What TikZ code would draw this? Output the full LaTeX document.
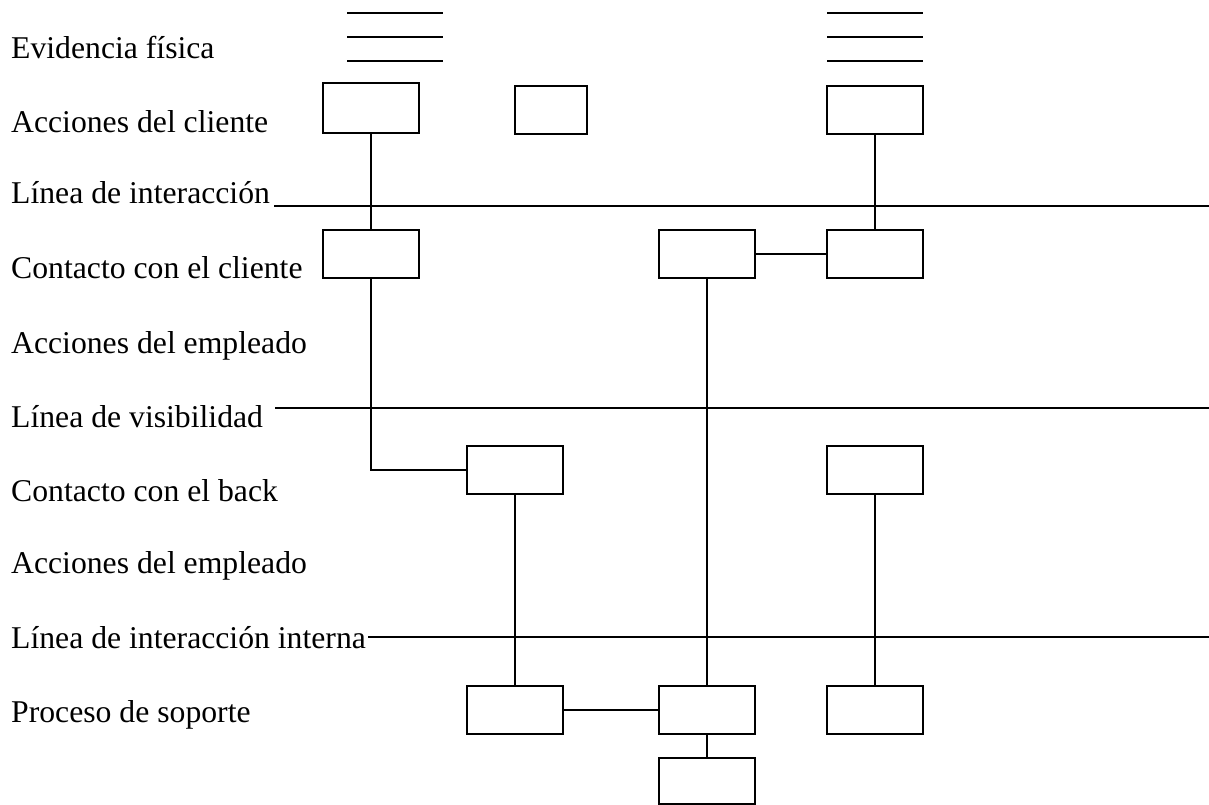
\documentclass[tikz,border=0pt]{standalone}
\usepackage{fontspec}
\setmainfont{Liberation Serif}
\begin{document}
\begin{tikzpicture}[x=1pt,y=-1pt,
  lbl/.style={anchor=base west,inner sep=0pt,font=\fontsize{31.7}{36}\selectfont},
  box/.style={draw,line width=1.5pt,inner sep=0pt,minimum width=96pt,minimum height=48pt},
  conn/.style={line width=1.5pt},
  sep/.style={line width=1.5pt}]
\useasboundingbox (0,0) rectangle (1209,805);
% labels
\node[lbl] (l1) at (11,59) {Evidencia física};
\node[lbl] (l2) at (11,133) {Acciones del cliente};
\node[lbl] (l3) at (11,204) {Línea de interacción};
\node[lbl] (l4) at (11,278) {Contacto con el cliente};
\node[lbl] (l5) at (11,353) {Acciones del empleado};
\node[lbl] (l6) at (11,427) {Línea de visibilidad};
\node[lbl] (l7) at (11,501) {Contacto con el back};
\node[lbl] (l8) at (11,573) {Acciones del empleado};
\node[lbl] (l9) at (11,648) {Línea de interacción interna};
\node[lbl] (l10) at (11,722) {Proceso de soporte};
% physical evidence marks
\foreach \yy in {13,37,61}{
  \draw[sep] (347,\yy) -- (443,\yy);
  \draw[sep] (827,\yy) -- (923,\yy);
}
% separator lines
\coordinate (s1a) at (274,206); \coordinate (s1b) at (1209,206);
\coordinate (s2a) at (275,408); \coordinate (s2b) at (1209,408);
\coordinate (s3a) at (368,637); \coordinate (s3b) at (1209,637);
\draw[sep] (s1a) -- (s1b);
\draw[sep] (s2a) -- (s2b);
\draw[sep] (s3a) -- (s3b);
% boxes
\node[box,minimum height=50pt] (A) at (371,108) {};
\node[box,minimum width=72pt] (B) at (551,110) {};
\node[box] (C) at (875,110) {};
\node[box] (D) at (371,254) {};
\node[box] (E) at (707,254) {};
\node[box] (F) at (875,254) {};
\node[box] (G) at (515,470) {};
\node[box] (H) at (875,470) {};
\node[box] (I) at (515,710) {};
\node[box] (J) at (707,710) {};
\node[box] (K) at (875,710) {};
\node[box,minimum height=46pt] (L) at (707,781) {};
% connectors
\draw[conn] (A.south) -- (D.north);
\draw[conn] (C.south) -- (F.north);
\draw[conn] (E.east) -- (F.west);
\draw[conn] (D.south) |- (G.west);
\draw[conn] (E.south) -- (J.north);
\draw[conn] (G.south) -- (I.north);
\draw[conn] (H.south) -- (K.north);
\draw[conn] (I.east) -- (J.west);
\draw[conn] (J.south) -- (L.north);
\end{tikzpicture}
\end{document}
